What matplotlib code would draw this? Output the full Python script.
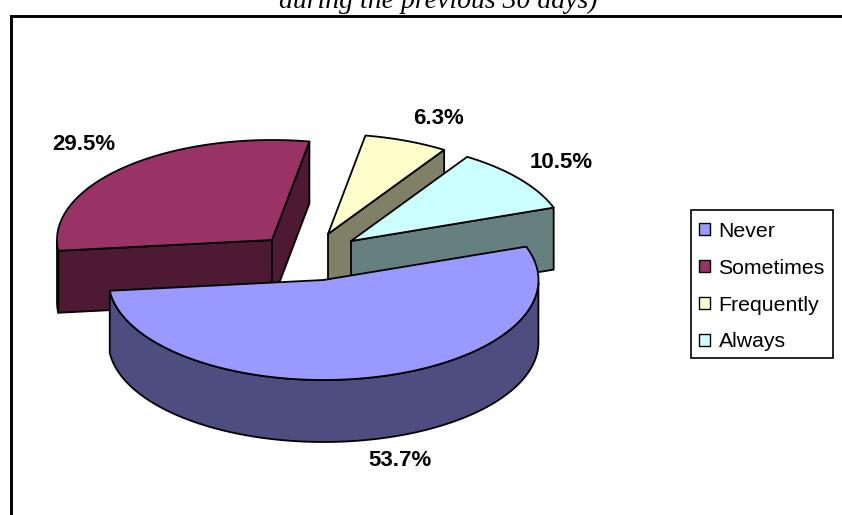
import numpy as np
import matplotlib
matplotlib.use('Agg')
import matplotlib.pyplot as plt
from matplotlib.patches import Polygon, Patch, Rectangle

categories = ['Never', 'Sometimes', 'Frequently', 'Always']
shares = [53.7, 29.5, 6.3, 10.5]
labels = ['53.7%', '29.5%', '6.3%', '10.5%']
top_colors = ['#9999FF', '#993366', '#FFFFCC', '#CCFFFF']
side_colors = ['#4D4D80', '#4D1933', '#808066', '#668080']

# layout, in pixels of the 842x515 picture
centers = [(323.5, 280), (272, 240), (328, 234), (351, 241)]
label_pos = [(400, 461), (84, 144), (438, 119), (561, 163)]
rx, ry, depth = 215, 100, 62
start_angle = 19.5

plt.rcParams['font.family'] = ['Liberation Sans', 'DejaVu Sans']

fig = plt.figure(figsize=(8.42, 5.15), dpi=100)
ax = fig.add_axes([0, 0, 1, 1])
ax.set_xlim(0, 842)
ax.set_ylim(515, 0)
ax.axis('off')


def project(center, angles):
    a = np.radians(angles)
    return np.column_stack([center[0] + rx * np.cos(a), center[1] - ry * np.sin(a)])


def draw_side(points, color, zorder):
    lower = points + [0, depth]
    ax.add_patch(Polygon(np.vstack([points, lower[::-1]]), closed=True, facecolor=color,
                         edgecolor='black', linewidth=1.3, joinstyle='round', zorder=zorder))


def draw_slice(i, a1, a2, zorder):
    center = np.array(centers[i], dtype=float)
    arc_angles = np.linspace(a1, a2, 120)
    arc = project(center, arc_angles)

    # radial cut faces, only the ones turned to the viewer
    if np.sin(np.radians(a1 + 90)) < 0:
        draw_side(np.array([center, arc[0]]), side_colors[i], zorder)
    if np.sin(np.radians(a2 - 90)) < 0:
        draw_side(np.array([center, arc[-1]]), side_colors[i], zorder)

    # outer rim, only the front half
    front = np.sin(np.radians(arc_angles)) <= 0
    if front.sum() > 1:
        draw_side(arc[front], side_colors[i], zorder)

    ax.add_patch(Polygon(np.vstack([center, arc]), closed=True, facecolor=top_colors[i],
                         edgecolor='black', linewidth=1.3, joinstyle='round', zorder=zorder + 0.5))


# slices run clockwise from the start angle
sweeps = np.array(shares) / sum(shares) * 360
ends = start_angle - np.cumsum(sweeps)
starts = ends + sweeps

# Never is at the front so it goes on last
for z, i in enumerate([1, 2, 3, 0]):
    draw_slice(i, starts[i], ends[i], 2 + z)

for i in range(len(labels)):
    ax.text(label_pos[i][0], label_pos[i][1], labels[i], fontsize=16, fontweight='bold',
            ha='center', va='center', zorder=10)

# chart frame: only top and left show, the rest runs off the picture
ax.plot([10.5, 10.5, 860], [530, 15.5, 15.5], color='black', linewidth=2.1,
        solid_joinstyle='miter', zorder=1, clip_on=False)

ax.text(438, 7.5, 'during the previous 30 days)', family=['Liberation Serif'], style='italic',
        fontsize=20, ha='center', va='baseline')

# legend box is drawn on its own, the padding around the rows is uneven
ax.add_patch(Rectangle((691, 209.5), 142, 148.5, facecolor='white', edgecolor='black',
                       linewidth=1.2, zorder=8))
handles = [Patch(facecolor=c, edgecolor='black', linewidth=1.0) for c in top_colors]
leg = ax.legend(handles, categories, loc='upper left', bbox_to_anchor=(690 / 842, 1 - 213 / 515),
                borderaxespad=0, frameon=False, fontsize=15.3, handlelength=0.5, handleheight=0.5,
                handletextpad=0.42, labelspacing=0.84, borderpad=0.42)
leg.set_zorder(9)

fig.savefig('out.png', dpi=100)
